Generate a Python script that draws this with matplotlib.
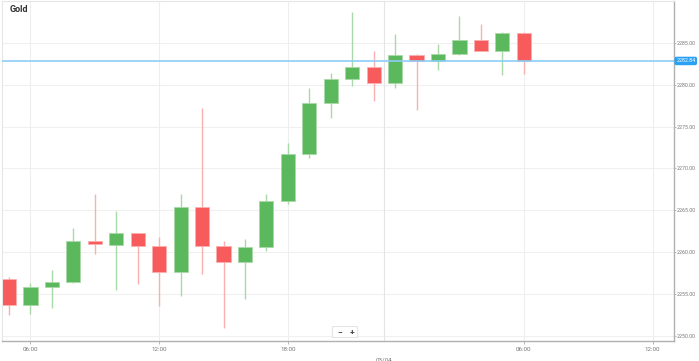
import matplotlib
matplotlib.use("Agg")
import matplotlib.pyplot as plt
from matplotlib.patches import FancyBboxPatch

plt.rcParams["font.family"] = ["Roboto", "DejaVu Sans"]

# ---- data (hourly candles, ordinal index) ----
opens  = [2256.8, 2253.7, 2255.8, 2256.5, 2261.3, 2260.9, 2262.3, 2260.8, 2257.6, 2265.4,
          2260.8, 2258.8, 2260.6, 2266.1, 2271.7, 2277.8, 2280.7, 2282.1, 2280.2, 2283.6,
          2282.8, 2283.7, 2285.4, 2284.0, 2286.2]
closes = [2253.7, 2255.8, 2256.5, 2261.3, 2261.0, 2262.3, 2260.8, 2257.6, 2265.4, 2260.8,
          2258.8, 2260.6, 2266.1, 2271.7, 2277.8, 2280.7, 2282.1, 2280.2, 2283.6, 2282.8,
          2283.7, 2285.4, 2284.0, 2286.2, 2282.84]
highs  = [2257.1, 2256.3, 2257.9, 2262.9, 2267.0, 2264.9, 2262.3, 2261.8, 2267.0, 2277.2,
          2261.4, 2261.6, 2266.9, 2273.0, 2279.6, 2281.35, 2288.7, 2284.05, 2286.1, 2283.7,
          2284.85, 2288.25, 2287.3, 2286.25, 2286.25]
lows   = [2252.5, 2252.6, 2253.4, 2256.35, 2259.8, 2255.5, 2256.2, 2253.6, 2254.8, 2257.4,
          2251.0, 2254.4, 2260.2, 2265.7, 2271.2, 2276.0, 2279.9, 2278.1, 2279.6, 2277.0,
          2281.8, 2283.5, 2284.0, 2281.2, 2281.3]
last_price = 2282.84
tick_pos = [1, 7, 13, 24, 30]
tick_labels = ["06:00", "12:00", "18:00", "06:00", "12:00"]
day_pos = 17.5
day_label = "03/04"
y_ticks = [2250, 2255, 2260, 2265, 2270, 2275, 2280, 2285]
title = "Gold"

GREEN = "#5cb85c"
RED = "#f75b5b"
GREEN_W = "#a9d8a9"
RED_W = "#fbb0b0"

fig = plt.figure(figsize=(6.99, 3.61), dpi=100)
W, H = 699, 361
ax = fig.add_axes([2 / W, 20 / H, 672 / W, 340 / H])

ax.set_xlim(-0.326, 31.0)
ax.set_ylim(2249.4, 2290.0)

# grid
for y in y_ticks:
    ax.axhline(y, color="#f0f0f0", lw=0.8, zorder=0)
for x in tick_pos:
    ax.axvline(x, color="#eeeeee", lw=0.8, zorder=0)
ax.axvline(day_pos, color="#e4e4e4", lw=0.8, zorder=0)

width = 0.66
for i, (o, c, h, l) in enumerate(zip(opens, closes, highs, lows)):
    up = c >= o
    col = GREEN if up else RED
    wcol = GREEN_W if up else RED_W
    ax.vlines(i, l, h, color=wcol, lw=1.0, zorder=1)
    bottom = min(o, c)
    height = max(abs(c - o), 0.25)
    ax.bar(i, height, width=width, bottom=bottom, color=col,
           edgecolor=wcol, linewidth=0.6, zorder=2)

# last price line
ax.axhline(last_price, color="#8ccdf5", lw=1.2, zorder=3)

# spines
for s in ["top", "left"]:
    ax.spines[s].set_color("#e6e6e6")
    ax.spines[s].set_linewidth(0.8)
ax.spines["right"].set_color("#b0b0b0")
ax.spines["bottom"].set_color("#b0b0b0")
ax.spines["right"].set_linewidth(1.0)
ax.spines["bottom"].set_linewidth(1.0)

ax.yaxis.tick_right()
ax.set_yticks(y_ticks)
ax.set_yticklabels([f"{v:.2f}" for v in y_ticks])
ax.tick_params(axis="y", labelsize=3.8, colors="#b0b0b0", labelcolor="#777777",
               length=1.5, width=0.6, pad=0.8)
ax.set_xticks(tick_pos)
ax.set_xticklabels(tick_labels)
ax.tick_params(axis="x", labelsize=4.5, colors="#b0b0b0", labelcolor="#777777",
               length=2, width=0.6, pad=2)

ax.text(day_pos, -0.048, day_label, transform=ax.get_xaxis_transform(),
        ha="center", va="top", fontsize=4.5, color="#777777")

# last price label box
ax.annotate(f"{last_price:.2f}", xy=(1.0, last_price),
            xycoords=ax.get_yaxis_transform(), xytext=(1.6, 0),
            textcoords="offset points", ha="left", va="center", fontsize=3.8,
            color="white",
            bbox=dict(boxstyle="round,pad=0.2,rounding_size=0.25", fc="#2aa1f2",
                      ec="#2aa1f2"))

# title
fig.text(10 / W, 1 - 10 / H, title, ha="left", va="center", fontsize=6.5,
         fontweight="bold", color="#333333")

# zoom buttons
bx, by = 340 / W, 1 - 332 / H
fig.patches.append(FancyBboxPatch((bx - 7 / W, by - 5 / H), 24 / W, 10 / H,
                                  boxstyle="round,pad=0.001", transform=fig.transFigure,
                                  fc="white", ec="#dddddd", lw=0.6, zorder=5))
fig.text(bx + 0 / W, by, "−", ha="center", va="center", fontsize=6,
         fontweight="bold", color="#444444", zorder=6)
fig.text(bx + 12 / W, by, "+", ha="center", va="center", fontsize=6,
         fontweight="bold", color="#444444", zorder=6)

fig.savefig("out.png", dpi=100, facecolor="white")
